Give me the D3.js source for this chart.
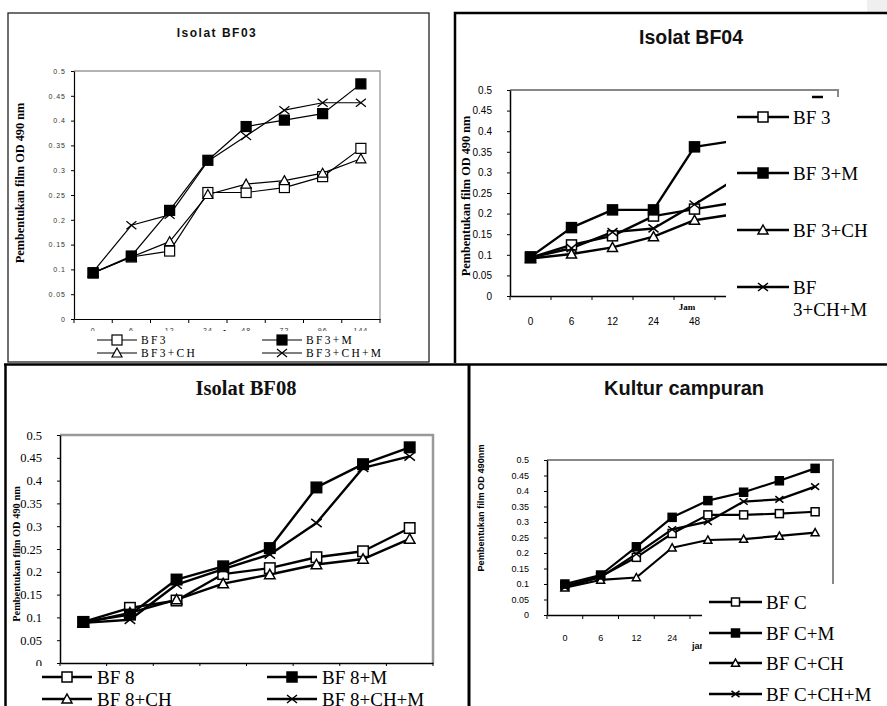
<!DOCTYPE html>
<html>
<head>
<meta charset="utf-8">
<script src="https://cdn.jsdelivr.net/npm/d3@7"></script>
<style>
  body { margin: 0; background: #fff; }
  svg { display: block; }
</style>
</head>
<body>
<svg id="fig" width="887" height="706"></svg>
<script>
(function () {

  'use strict';

  // ---------- DATA ----------
  var hours = ['0', '6', '12', '24', '48', '72', '96', '144'];
  var yTicks = [0, 0.05, 0.1, 0.15, 0.2, 0.25, 0.3, 0.35, 0.4, 0.45, 0.5];
  var markTypes = ['sq', 'fsq', 'tri', 'x']; // open square, filled square, triangle, cross

  // Isolat BF03
  var bf03Names = ['BF3', 'BF3+M', 'BF3+CH', 'BF3+CH+M'];
  var bf03_BF3 = [0.093, 0.125, 0.137, 0.255, 0.255, 0.265, 0.287, 0.344];
  var bf03_BF3M = [0.093, 0.127, 0.219, 0.320, 0.388, 0.401, 0.414, 0.474];
  var bf03_BF3CH = [0.093, 0.125, 0.156, 0.251, 0.272, 0.279, 0.294, 0.323];
  var bf03_BF3CHM = [0.095, 0.189, 0.210, 0.318, 0.369, 0.421, 0.436, 0.436];

  // Isolat BF04 (later hours hidden behind the legend)
  var bf04Names = ['BF 3', 'BF 3+M', 'BF 3+CH', 'BF 3+CH+M'];
  var bf04_BF3 = [0.093, 0.124, 0.146, 0.194, 0.211, 0.227];
  var bf04_BF3M = [0.095, 0.166, 0.209, 0.209, 0.362, 0.377];
  var bf04_BF3CH = [0.091, 0.102, 0.118, 0.144, 0.184, 0.199];
  var bf04_BF3CHM = [0.093, 0.116, 0.155, 0.164, 0.222, 0.284];

  // Isolat BF08
  var bf08Names = ['BF 8', 'BF 8+M', 'BF 8+CH', 'BF 8+CH+M'];
  var bf08_BF8 = [0.090, 0.121, 0.137, 0.195, 0.208, 0.232, 0.245, 0.296];
  var bf08_BF8M = [0.090, 0.106, 0.183, 0.212, 0.252, 0.385, 0.436, 0.473];
  var bf08_BF8CH = [0.088, 0.110, 0.139, 0.174, 0.194, 0.216, 0.228, 0.272];
  var bf08_BF8CHM = [0.088, 0.095, 0.172, 0.206, 0.238, 0.307, 0.428, 0.453];

  // Kultur campuran
  var mixNames = ['BF C', 'BF C+M', 'BF C+CH', 'BF C+CH+M'];
  var mix_BFC = [0.094, 0.124, 0.186, 0.263, 0.323, 0.323, 0.327, 0.333];
  var mix_BFCM = [0.100, 0.129, 0.220, 0.315, 0.369, 0.396, 0.433, 0.473];
  var mix_BFCCH = [0.088, 0.113, 0.121, 0.217, 0.242, 0.245, 0.255, 0.266];
  var mix_BFCCHM = [0.090, 0.122, 0.197, 0.276, 0.301, 0.366, 0.373, 0.414];

  var svg = d3.select('#fig');
  var ARIAL = 'Liberation Sans, Arial, sans-serif';
  var TIMES = 'Liberation Serif, Times New Roman, serif';

  // ---------- OUTER FRAMES ----------
  svg.append('rect').attr('x', 867).attr('y', 0).attr('width', 20).attr('height', 12).attr('fill', '#efefef');
  svg.append('rect').attr('x', 8).attr('y', 13).attr('width', 421).attr('height', 349)
    .attr('fill', 'none').attr('stroke', '#222').attr('stroke-width', 1.3);
  svg.append('path').attr('d', 'M455,363V13H887').attr('fill', 'none').attr('stroke', '#000').attr('stroke-width', 2.5);
  svg.append('path').attr('d', 'M4,364.5H887').attr('stroke', '#000').attr('stroke-width', 2.5);
  svg.append('path').attr('d', 'M5.5,364V706').attr('stroke', '#000').attr('stroke-width', 2.5);
  svg.append('path').attr('d', 'M469,364V706').attr('stroke', '#000').attr('stroke-width', 3);

  function marker(g, type, cx, cy, s, sw) {
    var h = s / 2;
    if (type === 'sq' || type === 'fsq') {
      g.append('rect').attr('x', cx - h).attr('y', cy - h).attr('width', s).attr('height', s)
        .attr('fill', type === 'fsq' ? '#000' : '#fff').attr('stroke', '#000').attr('stroke-width', sw);
    } else if (type === 'tri') {
      g.append('path').attr('d', 'M' + cx + ',' + (cy - h) + 'L' + (cx + h) + ',' + (cy + h * 0.8) + 'L' + (cx - h) + ',' + (cy + h * 0.8) + 'Z')
        .attr('fill', '#fff').attr('stroke', '#000').attr('stroke-width', sw);
    } else {
      g.append('path').attr('d', 'M' + (cx - h) + ',' + (cy - h * 0.8) + 'L' + (cx + h) + ',' + (cy + h * 0.8) +
        'M' + (cx + h) + ',' + (cy - h * 0.8) + 'L' + (cx - h) + ',' + (cy + h * 0.8))
        .attr('fill', 'none').attr('stroke', '#000').attr('stroke-width', sw);
    }
  }

  function drawPanel(p) {
    var g = svg.append('g');
    var x = d3.scaleBand().domain(hours).range([p.left, p.right]);
    var y = d3.scaleLinear().domain([0, 0.5]).range([p.bottom, p.top]);
    var bw = x.bandwidth();
    var L = p.legend;

    // title
    g.append('text').attr('x', p.titleX).attr('y', p.titleY).attr('text-anchor', 'middle')
      .attr('font-family', p.titleFont).attr('font-weight', 'bold').attr('font-size', p.titleSize)
      .style('letter-spacing', (p.titleLs || 0) + 'px').attr('fill', '#111').text(p.title);

    // gray plot frame (top and right)
    g.append('path').attr('d', 'M' + p.left + ',' + p.top + 'H' + p.right + 'V' + p.frameEnd)
      .attr('fill', 'none').attr('stroke', p.frameColor).attr('stroke-width', p.frameW);

    // y axis
    var ya = g.append('g').attr('transform', 'translate(' + p.left + ',0)')
      .call(d3.axisLeft(y).tickValues(yTicks).tickSize(3).tickSizeOuter(0).tickPadding(p.yPad)
        .tickFormat(function (d) { return String(+d.toFixed(2)); }));
    ya.select('.domain').attr('stroke', '#000').attr('stroke-width', p.axisW);
    ya.selectAll('.tick line').attr('stroke', '#000');
    ya.selectAll('text').attr('font-family', p.tickFont).attr('font-size', p.tickSize)
      .attr('fill', p.tickColor || '#000').style('letter-spacing', (p.tickLs || 0) + 'px');

    // x axis: labels in band centres, ticks on band edges
    var xa = g.append('g').attr('transform', 'translate(0,' + p.bottom + ')')
      .call(d3.axisBottom(x).tickSize(0).tickSizeOuter(0).tickPadding(p.xPad));
    xa.select('.domain').attr('stroke', '#000').attr('stroke-width', p.axisW);
    xa.selectAll('text').attr('font-family', p.tickFont).attr('font-size', p.tickSize)
      .attr('fill', p.tickColor || '#000').style('letter-spacing', (p.tickLs || 0) + 'px');
    // labels that sit wholly under the legend box are not drawn
    xa.selectAll('.tick text').each(function (d) {
      var w = this.getComputedTextLength();
      var lx = x(d) + bw / 2 - w / 2;
      var top = p.bottom + p.xPad;
      if (lx > L.box[0] && top > L.box[1]) { d3.select(this).remove(); }
    });
    var edges = hours.map(function (h) { return x(h); }).concat([x.range()[1]]);
    g.selectAll('.xt').data(edges).enter().append('line')
      .attr('x1', function (d) { return d; }).attr('x2', function (d) { return d; })
      .attr('y1', p.bottom).attr('y2', p.bottom + 4).attr('stroke', '#000').attr('stroke-width', 1);

    if (p.xTitle) {
      g.append('text').attr('x', p.xTitle.x).attr('y', p.xTitle.y).attr('text-anchor', p.xTitle.anchor || 'middle')
        .attr('font-family', p.xTitle.font).attr('font-weight', 'bold').attr('font-size', p.xTitle.size)
        .attr('fill', '#000').text(p.xTitle.text);
    }

    // y title
    g.append('text').attr('transform', 'translate(' + p.yTitle.x + ',' + p.yTitle.y + ') rotate(-90)')
      .attr('text-anchor', 'middle').attr('dominant-baseline', 'central')
      .attr('font-family', p.yTitle.font).attr('font-weight', 'bold').attr('font-size', p.yTitle.size)
      .attr('fill', '#000').text(p.yTitle.text);

    // lines
    var line = d3.line()
      .x(function (d, i) { return x(hours[i]) + bw / 2; })
      .y(function (d) { return y(d); });
    p.series.forEach(function (s) {
      g.append('path').datum(s.values).attr('d', line)
        .attr('fill', 'none').attr('stroke', '#000').attr('stroke-width', p.lineW).attr('stroke-linejoin', 'round');
    });
    // markers: open ones first, filled square on top
    [0, 2, 3, 1].forEach(function (k) {
      var s = p.series[k];
      s.values.forEach(function (v, i) {
        marker(g, s.type, x(hours[i]) + bw / 2, y(v), p.markSize, p.markW);
      });
    });

    // legend
    g.append('rect').attr('x', L.box[0]).attr('y', L.box[1]).attr('width', L.box[2]).attr('height', L.box[3]).attr('fill', '#fff');
    p.series.forEach(function (s, k) {
      var pos = L.pos[k];
      g.append('line').attr('x1', pos[0]).attr('x2', pos[0] + L.len).attr('y1', pos[1]).attr('y2', pos[1])
        .attr('stroke', '#000').attr('stroke-width', L.lineW);
      marker(g, s.type, pos[0] + L.len / 2, pos[1], L.markSize, L.markW);
      var t = g.append('text').attr('y', pos[1])
        .attr('font-family', TIMES).attr('font-size', L.size).style('letter-spacing', (L.ls || 0) + 'px').attr('fill', '#000');
      var lines = (L.wrap && L.wrap[k]) ? L.wrap[k] : [s.name];
      lines.forEach(function (txt, j) {
        t.append('tspan').attr('x', pos[0] + L.len + L.gap).attr('dy', j === 0 ? '0.35em' : '1.2em').text(txt);
      });
    });
    return g;
  }

  function build(names, arrays) {
    return names.map(function (n, k) { return { name: n, values: arrays[k], type: markTypes[k] }; });
  }

  // ---------- PANEL 1 : Isolat BF03 ----------
  drawPanel({
    title: 'Isolat BF03', titleX: 217, titleY: 37, titleFont: ARIAL, titleSize: 12, titleLs: 1.5,
    left: 74, right: 380, top: 71, bottom: 319, frameEnd: 319, frameColor: '#999', frameW: 1.3, axisW: 1.2,
    tickFont: ARIAL, tickSize: 7, tickLs: 1, tickColor: '#333', yPad: 5, xPad: 9,
    xTitle: { text: 'Jam', x: 229, y: 335, font: ARIAL, size: 7 },
    yTitle: { text: 'Pembentukan film OD 490 nm', x: 20, y: 183, font: TIMES, size: 12.3 },
    series: build(bf03Names, [bf03_BF3, bf03_BF3M, bf03_BF3CH, bf03_BF3CHM]),
    lineW: 1.2, markSize: 10, markW: 1.2,
    legend: { box: [76, 331, 352, 30], pos: [[97, 340], [262, 340], [97, 353], [262, 353]],
      len: 40, gap: 4, size: 11.5, ls: 2.3, lineW: 1.2, markSize: 10, markW: 1.2 }
  });

  // ---------- PANEL 2 : Isolat BF04 ----------
  drawPanel({
    title: 'Isolat BF04', titleX: 691, titleY: 44, titleFont: ARIAL, titleSize: 19.5,
    left: 510, right: 838, top: 90, bottom: 296, frameEnd: 98, frameColor: '#888', frameW: 2, axisW: 1.5,
    tickFont: ARIAL, tickSize: 10, yPad: 15, xPad: 22,
    xTitle: { text: 'Jam', x: 687, y: 310, font: TIMES, size: 9 },
    yTitle: { text: 'Pembentukan film OD 490 nm', x: 466, y: 196, font: TIMES, size: 12.3 },
    series: build(bf04Names, [bf04_BF3, bf04_BF3M, bf04_BF3CH, bf04_BF3CHM]),
    lineW: 2.4, markSize: 10, markW: 1.5,
    legend: { box: [726, 97, 161, 234], pos: [[737, 117], [737, 173], [737, 230], [737, 287]],
      len: 52, gap: 4, size: 19, lineW: 2.4, markSize: 10, markW: 1.5,
      wrap: [null, null, null, ['BF', '3+CH+M']] }
  });
  svg.append('path').attr('d', 'M812,97H823').attr('stroke', '#000').attr('stroke-width', 2.5);

  // ---------- PANEL 3 : Isolat BF08 ----------
  drawPanel({
    title: 'Isolat BF08', titleX: 246, titleY: 395, titleFont: TIMES, titleSize: 20.5,
    left: 60, right: 433, top: 435, bottom: 663, frameEnd: 663, frameColor: '#999', frameW: 2.5, axisW: 1.5,
    tickFont: TIMES, tickSize: 12.5, yPad: 15, xPad: 14,
    yTitle: { text: 'Pembentukan film OD 490 nm', x: 16, y: 554, font: TIMES, size: 10.4 },
    series: build(bf08Names, [bf08_BF8, bf08_BF8M, bf08_BF8CH, bf08_BF8CHM]),
    lineW: 2.4, markSize: 10.5, markW: 1.5,
    legend: { box: [7, 666, 460, 40], pos: [[42, 677], [267, 677], [42, 699], [267, 699]],
      len: 50, gap: 5, size: 19, lineW: 2.4, markSize: 10, markW: 1.5 }
  });

  // ---------- PANEL 4 : Kultur campuran ----------
  drawPanel({
    title: 'Kultur campuran', titleX: 684, titleY: 395, titleFont: ARIAL, titleSize: 20,
    left: 547, right: 833, top: 460, bottom: 615, frameEnd: 590, frameColor: '#888', frameW: 2, axisW: 1.5,
    tickFont: ARIAL, tickSize: 9, yPad: 15, xPad: 20,
    xTitle: { text: 'jam', x: 692, y: 649, font: ARIAL, size: 9, anchor: 'start' },
    yTitle: { text: 'Pembentukan film OD 490nm', x: 481, y: 508, font: ARIAL, size: 9.2 },
    series: build(mixNames, [mix_BFC, mix_BFCM, mix_BFCCH, mix_BFCCHM]),
    lineW: 2.2, markSize: 8, markW: 1.5,
    legend: { box: [702, 584, 185, 122], pos: [[709, 602], [709, 633], [709, 663], [709, 694]],
      len: 53, gap: 4, size: 19, lineW: 2.4, markSize: 8, markW: 1.5 }
  });

})();
</script>
</body>
</html>
